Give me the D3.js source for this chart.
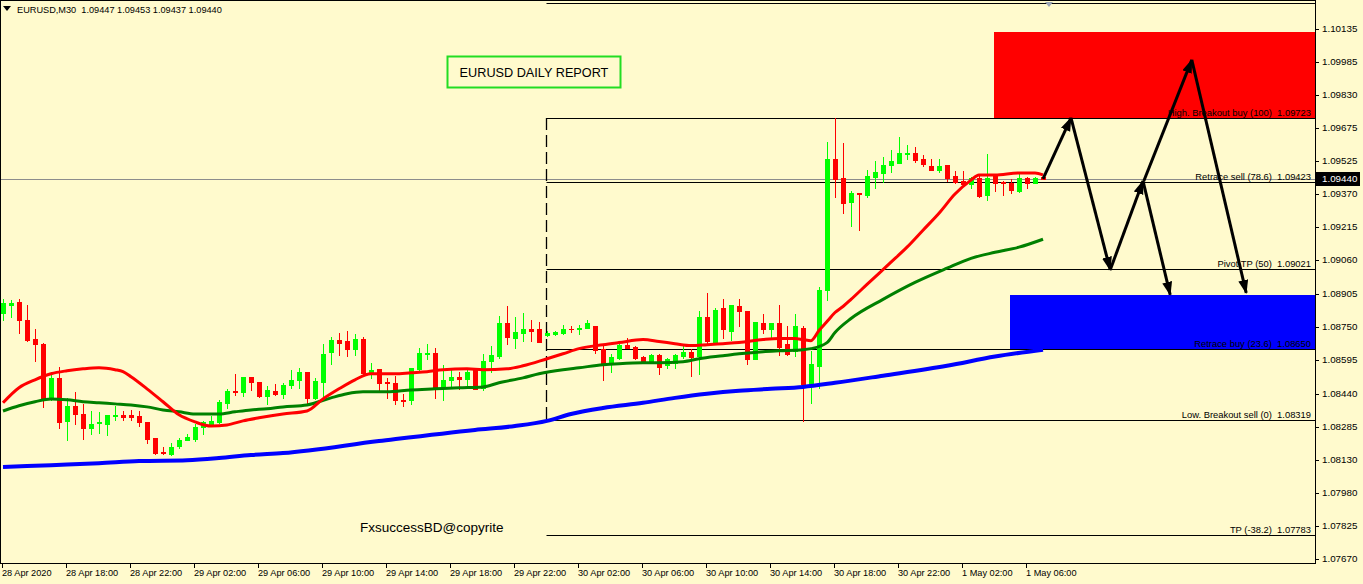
<!DOCTYPE html>
<html><head><meta charset="utf-8">
<script src="https://cdn.jsdelivr.net/npm/d3@7"></script>
<style>
html,body{margin:0;padding:0;background:#fffacd;overflow:hidden;}
svg{display:block;font-family:"Liberation Sans",Arial,sans-serif;}
</style></head><body>
<svg id="c" width="1363" height="584"></svg>
<script>
// ---------- DATA ----------
const headerText = "EURUSD,M30  1.09447 1.09453 1.09437 1.09440";
const titleText = "EURUSD DAILY REPORT";
const copyrightText = "FxsuccessBD@copyrite";
const lastPrice = 1.09440;

// time axis labels (one every 8 bars of M30)
const timeLabelBars = [0,8,16,24,32,40,48,56,64,72,80,88,96,104,112,120,128];
const timeLabels = ["28 Apr 2020","28 Apr 18:00","28 Apr 22:00","29 Apr 02:00","29 Apr 06:00","29 Apr 10:00",
  "29 Apr 14:00","29 Apr 18:00","29 Apr 22:00","30 Apr 02:00","30 Apr 06:00","30 Apr 10:00","30 Apr 14:00",
  "30 Apr 18:00","30 Apr 22:00","1 May 02:00","1 May 06:00"];

// price axis labels
const priceTicks = [1.10135,1.09985,1.09830,1.09675,1.09525,1.09370,1.09215,1.09060,1.08905,1.08750,
  1.08595,1.08440,1.08285,1.08130,1.07980,1.07825,1.07670];

// candles (bar index 0..130)
const opens = [1.08818,1.08851,1.08865,1.08785,1.08697,1.08673,1.08421,1.08514,1.08314,1.08384,
1.08346,1.08281,1.08304,1.08300,1.08337,1.08342,1.08342,1.08337,1.08309,1.08234,
1.08168,1.08159,1.08196,1.08225,1.08229,1.08286,1.08300,1.08309,1.08398,1.08454,
1.08449,1.08519,1.08496,1.08430,1.08454,1.08440,1.08482,1.08505,1.08543,1.08421,
1.08496,1.08636,1.08692,1.08687,1.08650,1.08697,1.08543,1.08556,1.08496,1.08491,
1.08412,1.08412,1.08556,1.08626,1.08631,1.08468,1.08505,1.08519,1.08510,1.08552,
1.08468,1.08594,1.08617,1.08771,1.08701,1.08725,1.08743,1.08743,1.08715,1.08720,
1.08725,1.08743,1.08743,1.08748,1.08757,1.08650,1.08580,1.08608,1.08668,1.08659,
1.08612,1.08589,1.08622,1.08575,1.08584,1.08617,1.08636,1.08617,1.08799,1.08678,
1.08837,1.08734,1.08846,1.08823,1.08603,1.08767,1.08739,1.08767,1.08673,1.08640,
1.08748,1.08482,1.08570,1.08921,1.09532,1.09444,1.09332,1.09374,1.09364,1.09448,
1.09467,1.09504,1.09514,1.09556,1.09561,1.09532,1.09500,1.09481,1.09504,1.09453,
1.09430,1.09416,1.09444,1.09364,1.09453,1.09425,1.09420,1.09383,1.09444,1.09420,
1.09447];
const highs = [1.08883,1.08874,1.08879,1.08851,1.08743,1.08678,1.08543,1.08566,1.08421,1.08449,
1.08393,1.08360,1.08356,1.08342,1.08384,1.08360,1.08365,1.08360,1.08309,1.08234,
1.08192,1.08211,1.08234,1.08253,1.08300,1.08314,1.08337,1.08412,1.08463,1.08533,
1.08519,1.08519,1.08496,1.08477,1.08487,1.08491,1.08552,1.08561,1.08543,1.08514,
1.08673,1.08706,1.08725,1.08734,1.08720,1.08706,1.08584,1.08556,1.08514,1.08524,
1.08440,1.08561,1.08654,1.08673,1.08654,1.08575,1.08561,1.08543,1.08556,1.08552,
1.08626,1.08664,1.08804,1.08846,1.08795,1.08818,1.08785,1.08776,1.08734,1.08734,
1.08762,1.08757,1.08762,1.08781,1.08757,1.08664,1.08626,1.08678,1.08701,1.08664,
1.08617,1.08626,1.08626,1.08608,1.08626,1.08673,1.08650,1.08823,1.08907,1.08841,
1.08883,1.08851,1.08879,1.08823,1.08776,1.08813,1.08771,1.08851,1.08757,1.08809,
1.08757,1.08640,1.08939,1.09612,1.09723,1.09607,1.09383,1.09374,1.09481,1.09523,
1.09542,1.09574,1.09635,1.09598,1.09588,1.09551,1.09532,1.09532,1.09504,1.09476,
1.09476,1.09448,1.09453,1.09556,1.09453,1.09430,1.09439,1.09462,1.09448,1.09448,
1.09453];
const lows = [1.08781,1.08795,1.08725,1.08687,1.08594,1.08379,1.08412,1.08281,1.08225,1.08300,
1.08229,1.08253,1.08258,1.08248,1.08318,1.08318,1.08318,1.08290,1.08211,1.08159,
1.08159,1.08154,1.08187,1.08225,1.08220,1.08253,1.08290,1.08304,1.08374,1.08435,
1.08430,1.08458,1.08426,1.08393,1.08435,1.08421,1.08468,1.08468,1.08393,1.08416,
1.08421,1.08580,1.08622,1.08617,1.08622,1.08528,1.08514,1.08454,1.08421,1.08393,
1.08384,1.08393,1.08547,1.08603,1.08421,1.08412,1.08468,1.08463,1.08468,1.08463,
1.08458,1.08543,1.08608,1.08673,1.08654,1.08687,1.08687,1.08683,1.08711,1.08715,
1.08720,1.08729,1.08720,1.08748,1.08631,1.08505,1.08543,1.08603,1.08654,1.08603,
1.08584,1.08584,1.08533,1.08561,1.08561,1.08608,1.08524,1.08533,1.08678,1.08673,
1.08701,1.08692,1.08753,1.08580,1.08603,1.08725,1.08697,1.08622,1.08622,1.08617,
1.08314,1.08398,1.08468,1.08874,1.09355,1.09280,1.09220,1.09201,1.09355,1.09397,
1.09425,1.09472,1.09514,1.09532,1.09518,1.09500,1.09481,1.09472,1.09430,1.09420,
1.09411,1.09397,1.09355,1.09341,1.09383,1.09364,1.09374,1.09378,1.09397,1.09420,
1.09437];
const closes = [1.08860,1.08860,1.08781,1.08692,1.08673,1.08412,1.08514,1.08309,1.08384,1.08346,
1.08281,1.08300,1.08309,1.08342,1.08342,1.08332,1.08332,1.08309,1.08229,1.08164,
1.08164,1.08192,1.08225,1.08239,1.08286,1.08309,1.08314,1.08403,1.08454,1.08449,
1.08519,1.08496,1.08430,1.08458,1.08440,1.08482,1.08505,1.08543,1.08421,1.08500,
1.08626,1.08692,1.08678,1.08650,1.08697,1.08538,1.08552,1.08491,1.08491,1.08412,
1.08407,1.08561,1.08631,1.08631,1.08468,1.08505,1.08519,1.08510,1.08543,1.08463,
1.08594,1.08622,1.08771,1.08706,1.08729,1.08743,1.08734,1.08683,1.08725,1.08729,
1.08743,1.08739,1.08748,1.08767,1.08645,1.08580,1.08612,1.08668,1.08654,1.08608,
1.08594,1.08622,1.08566,1.08603,1.08622,1.08636,1.08612,1.08799,1.08687,1.08832,
1.08739,1.08851,1.08823,1.08603,1.08776,1.08739,1.08767,1.08659,1.08626,1.08757,
1.08487,1.08580,1.08921,1.09532,1.09439,1.09327,1.09374,1.09369,1.09453,1.09472,
1.09504,1.09523,1.09561,1.09561,1.09528,1.09509,1.09481,1.09500,1.09444,1.09425,
1.09416,1.09444,1.09360,1.09444,1.09420,1.09420,1.09388,1.09444,1.09420,1.09444,
1.09440];

// moving averages (bar index, price)
const maFastBars = [0,2,4,6,8,10,12,14,15,16,18,20,22,24,26,28,30,32,35,38,40,42,44,46,49,51,53,55,58,60,63,65,68,70,72,75,77,80,82,84,86,88,90,92,95,97,99,100,101,102,103,104,105,106,108,111,113,115,117,119,121,122,124,127,129,130];
const maFastVals = [1.08398,1.08468,1.08505,1.08533,1.08547,1.08556,1.08561,1.08552,1.08543,1.08519,1.08463,1.08403,1.08342,1.08309,1.08290,1.08295,1.08314,1.08328,1.08346,1.08360,1.08416,1.08463,1.08505,1.08533,1.08533,1.08538,1.08543,1.08552,1.08556,1.08552,1.08556,1.08570,1.08603,1.08626,1.08650,1.08668,1.08678,1.08692,1.08683,1.08673,1.08664,1.08668,1.08673,1.08678,1.08692,1.08697,1.08697,1.08692,1.08687,1.08734,1.08776,1.08818,1.08846,1.08879,1.08949,1.09052,1.09122,1.09201,1.09280,1.09369,1.09434,1.09458,1.09458,1.09467,1.09467,1.09458];
const maMidBars = [0,2,4,6,8,10,12,14,16,18,20,22,24,27,29,31,33,35,38,41,43,45,48,51,54,57,60,62,65,67,70,72,75,77,80,82,85,87,90,92,95,97,100,101,103,104,106,110,114,118,121,124,127,130];
const maMidVals = [1.08360,1.08384,1.08403,1.08416,1.08412,1.08403,1.08398,1.08393,1.08388,1.08379,1.08365,1.08356,1.08346,1.08346,1.08356,1.08365,1.08370,1.08379,1.08388,1.08421,1.08440,1.08449,1.08449,1.08458,1.08463,1.08468,1.08472,1.08491,1.08514,1.08533,1.08552,1.08561,1.08575,1.08580,1.08584,1.08584,1.08589,1.08603,1.08617,1.08626,1.08636,1.08640,1.08645,1.08650,1.08678,1.08725,1.08790,1.08879,1.08958,1.09024,1.09070,1.09098,1.09122,1.09159];
const maSlowBars = [0,6,12,17,23,27,31,35,47,59,64,68,71,75,80,84,88,92,96,100,104,110,118,124,130];
const maSlowVals = [1.08099,1.08108,1.08117,1.08127,1.08131,1.08141,1.08155,1.08164,1.08220,1.08272,1.08290,1.08314,1.08346,1.08374,1.08398,1.08421,1.08440,1.08454,1.08463,1.08472,1.08491,1.08524,1.08570,1.08613,1.08645];

// fibonacci retracement
const fibStartBar = 68;
const fibLevels = [138.2,100,78.6,50,23.6,0,-38.2];
const fibPrices = [1.10259,1.09723,1.09423,1.09021,1.08650,1.08319,1.07783];
const fibNames = ["","High. Breakout buy (100)","Retrace sell (78.6)","Pivot TP (50)","Retrace buy (23.6)","Low. Breakout sell (0)","TP (-38.2)"];

// zones
const zoneStartBars = [124,126];
const zoneTop = [1.10123,1.08900];
const zoneBottom = [1.09723,1.08650];
const zoneColors = ["#ff0000","#0000ff"];

// projected path arrows (bar index, price)
const arrowFromBars = [130,133.5,138.4,142.5,142.6,148.6];
const arrowFromPrices = [1.09440,1.09723,1.09016,1.09430,1.09430,1.09993];
const arrowToBars = [133.5,138.4,142.5,145.9,148.6,155.4];
const arrowToPrices = [1.09723,1.09016,1.09430,1.08900,1.09993,1.08909];

// ---------- DRAW ----------
const W = 1363, H = 584;
const plotRight = 1315, plotBottom = 563;
const svg = d3.select("#c");
const x = d3.scaleLinear().domain([0,130]).range([3,1043]);
const y = d3.scaleLinear().domain([1.07670,1.10135]).range([559.3,29.4]);
const fmt = d3.format(".5f");

svg.append("rect").attr("width",W).attr("height",H).attr("fill","#fffacd");

const defs = svg.append("defs");
defs.append("clipPath").attr("id","plot").append("rect").attr("x",0).attr("y",0).attr("width",plotRight).attr("height",plotBottom);
defs.append("marker").attr("id","ah").attr("markerUnits","userSpaceOnUse")
  .attr("markerWidth",16).attr("markerHeight",12).attr("refX",13).attr("refY",5)
  .attr("orient","auto").append("path").attr("d","M0,0 L14,5 L0,10 Z").attr("fill","#000");

const plot = svg.append("g").attr("clip-path","url(#plot)");

// zones
plot.selectAll("rect.zone").data(zoneStartBars).join("rect").attr("class","zone")
  .attr("x",d=>Math.round(x(d))-1).attr("width",d=>plotRight-Math.round(x(d))+1)
  .attr("y",(d,i)=>Math.round(y(zoneTop[i]))).attr("height",(d,i)=>Math.round(y(zoneBottom[i]))-Math.round(y(zoneTop[i])))
  .attr("fill",(d,i)=>zoneColors[i]);

// bid line
plot.append("line").attr("x1",0).attr("x2",plotRight).attr("y1",Math.round(y(lastPrice))+0.5).attr("y2",Math.round(y(lastPrice))+0.5)
  .attr("stroke","#8c8c8c").attr("stroke-width",1);

// fib lines
const fx = Math.round(x(fibStartBar))-0.5;
plot.selectAll("line.fib").data(fibPrices).join("line").attr("class","fib")
  .attr("x1",fx).attr("x2",plotRight).attr("y1",d=>Math.round(y(d))+0.5).attr("y2",d=>Math.round(y(d))+0.5)
  .attr("stroke","#000").attr("stroke-width",1);
plot.append("line").attr("x1",fx).attr("x2",fx).attr("y1",Math.round(y(fibPrices[1]))).attr("y2",Math.round(y(fibPrices[5])))
  .attr("stroke","#000").attr("stroke-width",1.3).attr("stroke-dasharray","12,5");

// candles
const idx = d3.range(opens.length);
const cg = plot.append("g");
idx.forEach(i=>{
  const xc = Math.round(x(i));
  const up = closes[i] >= opens[i];
  const col = up ? "#00ff00" : "#ff0000";
  cg.append("line").attr("x1",xc+0.5).attr("x2",xc+0.5).attr("y1",Math.round(y(highs[i]))).attr("y2",Math.round(y(lows[i]))+1)
    .attr("stroke",col).attr("stroke-width",1);
  const t = Math.round(y(Math.max(opens[i],closes[i]))), b = Math.round(y(Math.min(opens[i],closes[i])));
  cg.append("rect").attr("x",xc-2).attr("width",5).attr("y",t).attr("height",Math.max(1,b-t+1)).attr("fill",col);
});

// moving averages
const line = d3.line().x(d=>x(d[0])).y(d=>y(d[1])).curve(d3.curveMonotoneX);
const mas = [
  {bars:maSlowBars, vals:maSlowVals, color:"#0000ff", w:4},
  {bars:maMidBars, vals:maMidVals, color:"#008000", w:3},
  {bars:maFastBars, vals:maFastVals, color:"#ff0000", w:3}
];
mas.forEach(m=>{
  plot.append("path").attr("d",line(m.bars.map((b,i)=>[b,m.vals[i]])))
    .attr("fill","none").attr("stroke",m.color).attr("stroke-width",m.w);
});

// fib labels
plot.selectAll("text.fibl").data(fibPrices).join("text").attr("class","fibl")
  .attr("x",1311).attr("y",d=>Math.round(y(d))-2).attr("text-anchor","end")
  .attr("font-size","9.4px").attr("fill","#000").style("white-space","pre")
  .text((d,i)=>fibNames[i] ? fibNames[i]+"  "+fmt(d) : "");

// arrows
plot.selectAll("line.arr").data(arrowFromBars).join("line").attr("class","arr")
  .attr("x1",d=>x(d)).attr("y1",(d,i)=>y(arrowFromPrices[i]))
  .attr("x2",(d,i)=>x(arrowToBars[i])).attr("y2",(d,i)=>y(arrowToPrices[i]))
  .attr("stroke","#000").attr("stroke-width",3).attr("marker-end","url(#ah)");

// chart shift marker
plot.append("path").attr("d","M1045,2 L1053,2 L1049,7 Z").attr("fill","#9aa4b4");

// title box
svg.append("rect").attr("x",447.5).attr("y",56.5).attr("width",173).attr("height",31)
  .attr("fill","none").attr("stroke","#22dd22").attr("stroke-width",2);
svg.append("text").attr("x",534).attr("y",77).attr("text-anchor","middle").attr("font-size","12.7px").attr("fill","#000").text(titleText);

// copyright
svg.append("text").attr("x",360).attr("y",532).attr("font-size","13.5px").attr("fill","#000").text(copyrightText);

// header
svg.append("path").attr("d","M3,6 L11,6 L7,11 Z").attr("fill","#000");
svg.append("text").attr("x",17).attr("y",13).attr("font-size","9.2px").attr("fill","#000").style("white-space","pre").text(headerText);

// frame & axes
svg.append("line").attr("x1",0.5).attr("x2",0.5).attr("y1",0).attr("y2",plotBottom).attr("stroke","#000");
svg.append("line").attr("x1",0).attr("x2",plotRight).attr("y1",0.5).attr("y2",0.5).attr("stroke","#000");
svg.append("line").attr("x1",plotRight+0.5).attr("x2",plotRight+0.5).attr("y1",0).attr("y2",plotBottom+1).attr("stroke","#000");
svg.append("line").attr("x1",0).attr("x2",plotRight+1).attr("y1",plotBottom+0.5).attr("y2",plotBottom+0.5).attr("stroke","#000");

// price axis
const ya = svg.append("g");
priceTicks.forEach(p=>{
  const yy = Math.round(y(p));
  ya.append("line").attr("x1",plotRight).attr("x2",plotRight+4).attr("y1",yy+0.5).attr("y2",yy+0.5).attr("stroke","#000");
  ya.append("text").attr("x",1322).attr("y",yy).attr("dy","0.35em").attr("font-size","9.8px").attr("fill","#000").text(fmt(p));
});
// current price tag
const yl = Math.round(y(lastPrice));
svg.append("rect").attr("x",1316).attr("y",yl-7).attr("width",44).attr("height",14).attr("fill","#000");
svg.append("text").attr("x",1322).attr("y",yl).attr("dy","0.35em").attr("font-size","9.8px").attr("fill","#fff").text(fmt(lastPrice));

// time axis
const xa = svg.append("g");
timeLabelBars.forEach((b,i)=>{
  const xx = Math.round(x(b));
  xa.append("line").attr("x1",xx-0.5).attr("x2",xx-0.5).attr("y1",plotBottom).attr("y2",plotBottom+5).attr("stroke","#000");
  xa.append("text").attr("x",xx-1).attr("y",576).attr("font-size","9.2px").attr("fill","#000").text(timeLabels[i]);
});
</script>
</body></html>
